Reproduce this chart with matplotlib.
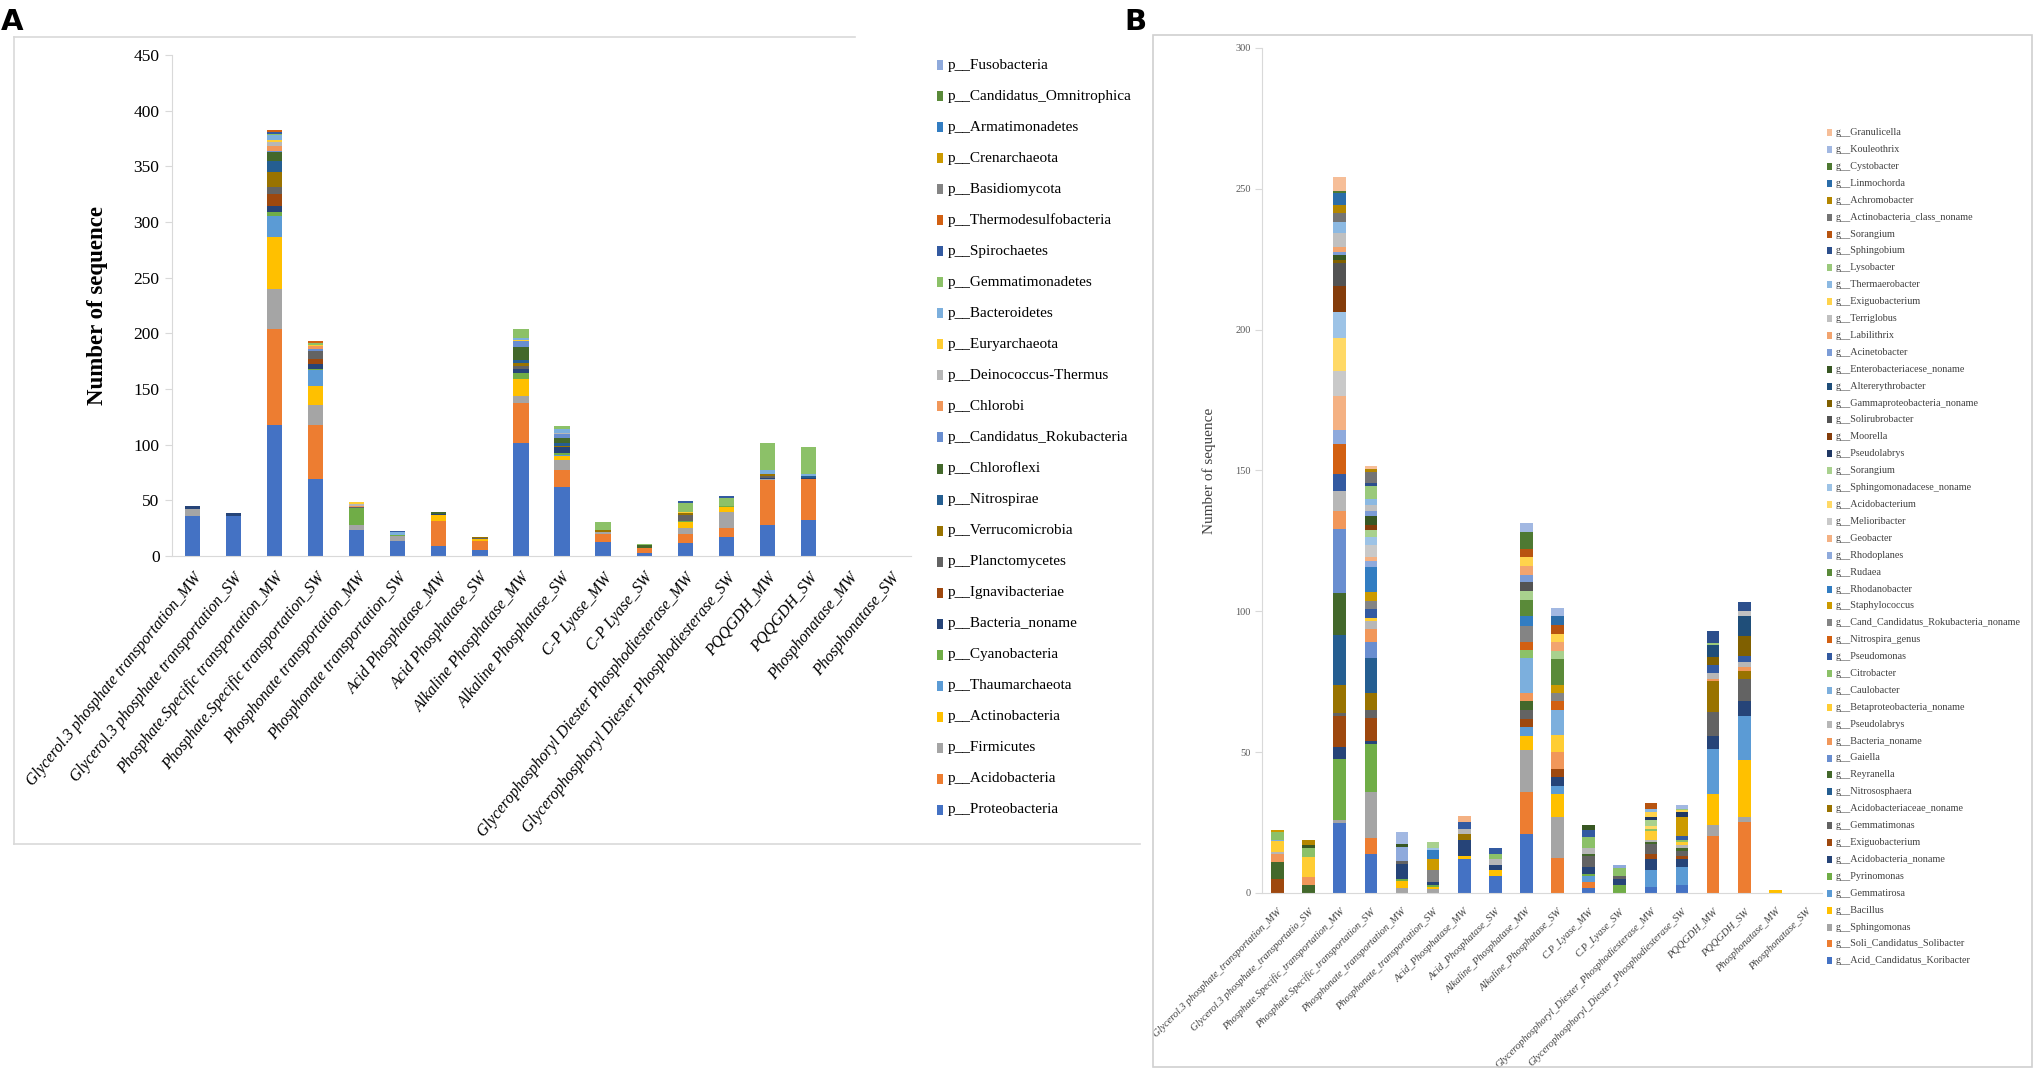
import colorsys
import numpy as np
import matplotlib
matplotlib.use("Agg")
import matplotlib.pyplot as plt
from matplotlib.patches import Rectangle
from matplotlib.lines import Line2D
from matplotlib.colors import to_rgb

W, H = 2037, 1071

# ---------------- Panel A data (phylum level), stacking order bottom -> top
cats_a = ["Glycerol.3 phosphate transportation_MW", "Glycerol.3 phosphate transportation_SW",
          "Phosphate.Specific transportation_MW", "Phosphate.Specific transportation_SW",
          "Phosphonate transportation_MW", "Phosphonate transportation_SW",
          "Acid Phosphatase_MW", "Acid Phosphatase_SW",
          "Alkaline Phosphatase_MW", "Alkaline Phosphatase_SW",
          "C-P Lyase_MW", "C-P Lyase_SW",
          "Glycerophosphoryl Diester Phosphodiesterase_MW", "Glycerophosphoryl Diester Phosphodiesterase_SW",
          "PQQGDH_MW", "PQQGDH_SW", "Phosphonatase_MW", "Phosphonatase_SW"]

p_proteobacteria = [36, 36, 117.5, 69.5, 23, 13.4, 9.2, 5.6, 101.6, 62, 13, 2.5, 12, 17.5, 28, 32.5, 0, 0]
p_acidobacteria = [0, 0, 86.7, 48, 0, 0, 21.9, 8.1, 35.4, 15.5, 7, 5, 7.5, 7.5, 40.5, 37, 0, 0]
p_firmicutes = [6, 0, 35.4, 18.5, 4.5, 4.2, 0, 0, 6.3, 9, 1.5, 0, 5.5, 14.5, 1, 0, 0, 0]
p_actinobacteria = [0, 0, 47, 17, 0, 0, 6, 1.8, 15.3, 3.5, 0, 0, 5.5, 4.5, 0, 0, 0, 0]
p_thaumarchaeota = [0, 0, 19, 14.5, 0, 0, 0, 0, 0.5, 0.5, 0, 0, 0, 0, 0, 0, 0, 0]
p_cyanobacteria = [0, 0, 3.3, 0.6, 15.6, 1, 0, 0, 5.5, 2, 0, 0, 0.5, 0.5, 0, 0, 0, 0]
p_bacteria_noname = [2.7, 2.5, 5.7, 4.8, 0, 0, 0.5, 0, 3, 5, 0, 0, 0.5, 0, 1, 1, 0, 0]
p_ignavibacteriae = [0, 0, 10.5, 4.2, 0, 0, 0, 0, 0.5, 0, 0, 0, 0, 0, 0, 0, 0, 0]
p_planctomycetes = [0, 0, 6.6, 6.6, 0.5, 0, 0, 0.8, 2.5, 0.5, 0.5, 0, 5.5, 0, 1, 0, 0, 0]
p_verrucomicrobia = [0, 0, 12.9, 0.5, 0, 0, 0.5, 1, 2.5, 0.5, 1, 0, 1.5, 0, 2, 0, 0, 0]
p_nitrospirae = [0, 0.5, 9.9, 0, 0, 0, 0, 0, 3, 3, 0, 0, 0, 0, 0.5, 1, 0, 0]
p_chloroflexi = [0, 0, 8.7, 0.3, 0, 0, 1, 0, 12, 4.5, 0.5, 2, 0.5, 0, 0, 0, 0, 0]
p_rokubacteria = [0, 0, 0.5, 1.5, 0.5, 0, 0, 0, 5, 4, 0, 0, 0, 0, 0, 0, 0, 0]
p_chlorobi = [0, 0, 5, 2.5, 1, 0, 0, 0, 0, 0, 0, 0, 0, 0, 0, 0, 0, 0]
p_deinococcus = [0, 0, 3, 0.3, 1.5, 0, 0, 0, 0, 0.5, 0, 0, 0, 0, 0, 0, 0, 0]
p_euryarchaeota = [0, 0, 2, 0.3, 1.5, 0, 0, 0, 0.5, 0, 0, 0, 0.5, 0, 0, 0, 0, 0]
p_bacteroidetes = [0, 0, 4.5, 0.5, 0, 3, 0, 0, 2, 4, 0, 0, 0, 0, 3, 2.5, 0, 0]
p_gemmatimonadetes = [0, 0, 0.5, 2, 0, 0, 0, 0, 8, 2.5, 7, 1.5, 8.5, 8, 24.5, 24, 0, 0]
p_spirochaetes = [0, 0, 2, 0, 0, 1.2, 0, 0, 0, 0, 0, 0, 1.5, 1.5, 0, 0, 0, 0]
p_thermodesulfobacteria = [0, 0, 2, 1.5, 0, 0, 0, 0, 0, 0, 0, 0, 0, 0, 0, 0, 0, 0]
p_basidiomycota = [0] * 18
p_crenarchaeota = [0] * 18
p_armatimonadetes = [0] * 18
p_omnitrophica = [0] * 18
p_fusobacteria = [0] * 18

series_a = [
    ("p__Proteobacteria", p_proteobacteria), ("p__Acidobacteria", p_acidobacteria),
    ("p__Firmicutes", p_firmicutes), ("p__Actinobacteria", p_actinobacteria),
    ("p__Thaumarchaeota", p_thaumarchaeota), ("p__Cyanobacteria", p_cyanobacteria),
    ("p__Bacteria_noname", p_bacteria_noname), ("p__Ignavibacteriae", p_ignavibacteriae),
    ("p__Planctomycetes", p_planctomycetes), ("p__Verrucomicrobia", p_verrucomicrobia),
    ("p__Nitrospirae", p_nitrospirae), ("p__Chloroflexi", p_chloroflexi),
    ("p__Candidatus_Rokubacteria", p_rokubacteria), ("p__Chlorobi", p_chlorobi),
    ("p__Deinococcus-Thermus", p_deinococcus), ("p__Euryarchaeota", p_euryarchaeota),
    ("p__Bacteroidetes", p_bacteroidetes), ("p__Gemmatimonadetes", p_gemmatimonadetes),
    ("p__Spirochaetes", p_spirochaetes), ("p__Thermodesulfobacteria", p_thermodesulfobacteria),
    ("p__Basidiomycota", p_basidiomycota), ("p__Crenarchaeota", p_crenarchaeota),
    ("p__Armatimonadetes", p_armatimonadetes), ("p__Candidatus_Omnitrophica", p_omnitrophica),
    ("p__Fusobacteria", p_fusobacteria),
]

# ---------------- Panel B data (genus level), stacking order bottom -> top
cats_b = ["Glycerol.3 phosphate_transportation_MW", "Glycerol.3 phosphate_transportatio_SW",
          "Phosphate.Specific_transportation_MW", "Phosphate.Specific_transportation_SW",
          "Phosphonate_transportation_MW", "Phosphonate_transportation_SW",
          "Acid_Phosphatase_MW", "Acid_Phosphatase_SW",
          "Alkaline_Phosphatase_MW", "Alkaline_Phosphatase_SW",
          "C.P_Lyase_MW", "C.P_Lyase_SW",
          "Glycerophosphoryl_Diester_Phosphodiesterase_MW", "Glycerophosphoryl_Diester_Phosphodiesterase_SW",
          "PQQGDH_MW", "PQQGDH_SW", "Phosphonatase_MW", "Phosphonatase_SW"]

g_koribacter = [0, 0, 24.7, 13.9, 0, 0, 12.2, 5.9, 20.9, 0, 1.8, 0, 2, 3, 0, 0, 0, 0]
g_solibacter = [0, 0, 0, 5.8, 0, 0, 0, 0, 15.1, 12.3, 2.1, 0, 0, 0, 20.1, 25.1, 0, 0]
g_sphingomonas = [0, 0, 1.2, 16.2, 1.8, 1.3, 0, 0, 14.9, 14.7, 0, 0, 0, 0, 4.1, 1.9, 0, 0]
g_bacillus = [0, 0, 0, 0, 2.5, 0.9, 0.8, 2.1, 5, 8, 0, 0, 0, 0, 10.8, 20.2, 1.2, 0]
g_gemmatirosa = [0, 0, 0, 0, 0, 0, 0, 0, 3, 3.1, 2, 0, 6.3, 6.1, 16.1, 15.7, 0, 0]
g_pyrinomonas = [0, 0, 21.8, 16.9, 0.8, 0.8, 0, 0, 0, 0, 1, 3, 0, 0, 0, 0, 0, 0]
g_acidobacteria_noname = [0, 0, 4, 1.1, 5.3, 0.8, 5.9, 2.1, 0, 3.1, 2.2, 2.1, 3.8, 3, 4.7, 5.3, 0, 0]
g_exiguobacterium_1 = [5, 0, 11, 8.4, 0, 0, 0, 0, 3, 2.8, 0, 0, 1.9, 0.9, 0, 0, 0, 0]
g_gemmatimonas = [0, 0, 1.2, 2.5, 0.8, 0, 0, 0, 3.2, 0, 3.9, 0.8, 3.4, 1.8, 8.4, 7.7, 0, 0]
g_acidobacteriaceae_noname = [0, 0, 9.8, 6.1, 0, 0, 2, 0, 0, 0, 0, 0, 0, 0, 10.9, 3, 0, 0]
g_nitrososphaera = [0, 0, 18, 12.7, 0, 0, 0, 0, 0, 0, 0, 0, 0, 0, 0, 0, 0, 0]
g_reyranella = [6, 3, 14.7, 0, 0, 0, 0, 0, 3.1, 0, 1, 0, 0.7, 1.2, 0, 0, 0, 0]
g_gaiella = [0, 0, 22.9, 5.4, 0, 0, 0, 0, 0, 0, 0, 0, 0, 0, 0, 0, 0, 0]
g_bacteria_noname = [2.9, 2.8, 6.2, 4.7, 0, 0, 0, 0, 2.8, 6, 0, 0, 0, 0, 0.9, 1.2, 0, 0]
g_pseudolabrys_1 = [0.8, 0, 7.2, 2.8, 0, 0, 1.9, 2.1, 0, 0, 2, 0, 0.8, 0.9, 2.2, 1.9, 0, 0]
g_betaproteobacteria_noname = [3.8, 7, 0, 1.2, 0, 0, 0, 0, 0, 6, 0, 0, 3.2, 1.2, 0, 0, 0, 0]
g_caulobacter = [0.3, 0, 0, 0, 0, 0, 0, 0, 12.3, 9.1, 0, 0, 0, 0, 0, 0, 0, 0]
g_citrobacter = [3, 3.2, 0, 0, 0, 0, 0, 1.8, 2.9, 0, 3.9, 3, 0.6, 0.8, 0, 0, 0, 0]
g_pseudomonas = [0, 0, 6, 3.3, 0, 0, 2.3, 2.1, 0, 0, 2.3, 0, 0, 1.2, 2.7, 2, 0, 0]
g_nitrospira_genus = [0, 0, 10.7, 0, 0, 0, 0, 0, 3, 3.2, 0, 0, 0, 0, 0, 0, 0, 0]
g_rokubacteria_noname = [0, 0, 0, 2.7, 0, 4.5, 0, 0, 5.7, 2.7, 0, 0, 0, 0, 0, 0, 0, 0]
g_staphylococcus = [0.6, 0, 0, 3.1, 0, 3.9, 0, 0, 0, 3, 0, 0, 0, 6.8, 0, 0, 0, 0]
g_rhodanobacter = [0, 0, 0, 8.9, 0, 3, 0, 0, 3.3, 0, 0, 0, 0, 0, 0, 0, 0, 0]
g_rudaea = [0, 0, 0, 0, 0, 0, 0, 0, 5.9, 9.1, 0, 0, 0, 0, 0, 0, 0, 0]
g_rhodoplanes = [0, 0, 5, 2, 5, 0, 0, 0, 0, 0, 0, 1, 0, 0, 0, 0, 0, 0]
g_geobacter = [0, 0, 12, 1.7, 0, 0, 2.1, 0, 0, 0, 0, 0, 0, 0, 0, 0, 0, 0]
g_melioribacter = [0, 0, 8.8, 4.3, 0, 0, 0, 0, 0, 0, 0, 0, 0, 0, 0, 0, 0, 0]
g_acidobacterium = [0, 0, 11.9, 0, 0, 0, 0, 0, 0, 0, 0, 0, 1.2, 0, 0, 0, 0, 0]
g_sphingomonadacese_noname = [0, 0, 9, 2.8, 0, 0.7, 0, 0, 0, 0, 0, 0, 0, 0, 0, 0, 0, 0]
g_sorangium_1 = [0, 0, 0, 2.2, 0, 2.1, 0, 0, 3, 2.7, 0, 0, 1.9, 0, 0, 0, 0, 0]
g_pseudolabrys_2 = [0, 0, 0, 0, 0, 0, 0, 0, 0, 0, 0, 0, 1.1, 1.8, 0, 0, 0, 0]
g_moorella = [0, 0, 9.3, 2, 0, 0, 0, 0, 0, 0, 0, 0, 0, 0, 0, 0, 0, 0]
g_solirubrobacter = [0, 0, 8.2, 0, 0, 0, 0, 0, 3.2, 0, 0, 0, 0, 0, 0, 0, 0, 0]
g_gammaproteobacteria_noname = [0, 0, 1, 0, 0, 0, 0, 0, 0, 0, 0, 0, 0, 0, 3, 7.1, 0, 0]
g_altererythrobacter = [0, 0, 0, 0, 0, 0, 0, 0, 0, 0, 0, 0, 0, 0, 4.1, 7.1, 0, 0]
g_enterobacteriacese_noname = [0, 1.2, 1.8, 3, 1.3, 0, 0, 0, 0, 0, 1.8, 0, 0, 0, 0, 0, 0, 0]
g_acinetobacter = [0, 0, 1, 2, 0, 0, 0, 0, 2.7, 0, 0, 0, 0, 0, 0, 0, 0, 0]
g_labilithrix = [0, 0, 2, 0, 0, 0, 0, 0, 3.2, 3.2, 0, 0, 0, 0, 0, 0, 0, 0]
g_terriglobus = [0, 0, 5, 2, 0, 0, 0, 0, 0, 0, 0, 0, 0, 0, 0, 1.8, 0, 0]
g_exiguobacterium_2 = [0, 0, 0, 0, 0, 0, 0, 0, 3.1, 3, 0, 0, 2, 0.6, 0, 0, 0, 0]
g_thermaerobacter = [0, 0, 4, 2.2, 0, 0, 0, 0, 0, 0, 0, 0, 0.9, 0, 0, 0, 0, 0]
g_lysobacter = [0, 0, 0, 4.5, 0, 0, 0, 0, 0, 0, 0, 0, 0, 0.6, 0.8, 0, 0, 0]
g_sphingobium = [0, 0, 0, 1, 0, 0, 0, 0, 0, 0, 0, 0, 0, 0, 4.1, 3.3, 0, 0]
g_sorangium_2 = [0, 0, 0, 0, 0, 0, 0, 0, 3, 3, 0, 0, 2.2, 0, 0, 0, 0, 0]
g_actinobacteria_class_noname = [0, 0, 3, 4, 0, 0, 0, 0, 0, 0, 0, 0, 0, 0, 0, 0, 0, 0]
g_achromobacter = [0, 1.7, 3, 1, 0, 0, 0, 0, 0, 0, 0, 0, 0, 0, 0, 0, 0, 0]
g_linmochorda = [0, 0, 4, 0, 0, 0, 0, 0, 0, 3.2, 0, 0, 0, 0, 0, 0, 0, 0]
g_cystobacter = [0, 0, 1, 0, 0, 0, 0, 0, 6, 0, 0, 0, 0, 0, 0, 0, 0, 0]
g_kouleothrix = [0, 0, 0, 0, 4, 0, 0, 0, 2.9, 3, 0, 0, 0, 1.2, 0, 0, 0, 0]
g_granulicella = [0, 0, 4.7, 1.2, 0, 0, 0, 0, 0, 0, 0, 0, 0, 0, 0, 0, 0, 0]

series_b = [
    ("g__Acid_Candidatus_Koribacter", g_koribacter), ("g__Soli_Candidatus_Solibacter", g_solibacter),
    ("g__Sphingomonas", g_sphingomonas), ("g__Bacillus", g_bacillus),
    ("g__Gemmatirosa", g_gemmatirosa), ("g__Pyrinomonas", g_pyrinomonas),
    ("g__Acidobacteria_noname", g_acidobacteria_noname), ("g__Exiguobacterium", g_exiguobacterium_1),
    ("g__Gemmatimonas", g_gemmatimonas), ("g__Acidobacteriaceae_noname", g_acidobacteriaceae_noname),
    ("g__Nitrososphaera", g_nitrososphaera), ("g__Reyranella", g_reyranella),
    ("g__Gaiella", g_gaiella), ("g__Bacteria_noname", g_bacteria_noname),
    ("g__Pseudolabrys", g_pseudolabrys_1), ("g__Betaproteobacteria_noname", g_betaproteobacteria_noname),
    ("g__Caulobacter", g_caulobacter), ("g__Citrobacter", g_citrobacter),
    ("g__Pseudomonas", g_pseudomonas), ("g__Nitrospira_genus", g_nitrospira_genus),
    ("g__Cand_Candidatus_Rokubacteria_noname", g_rokubacteria_noname), ("g__Staphylococcus", g_staphylococcus),
    ("g__Rhodanobacter", g_rhodanobacter), ("g__Rudaea", g_rudaea),
    ("g__Rhodoplanes", g_rhodoplanes), ("g__Geobacter", g_geobacter),
    ("g__Melioribacter", g_melioribacter), ("g__Acidobacterium", g_acidobacterium),
    ("g__Sphingomonadacese_noname", g_sphingomonadacese_noname), ("g__Sorangium", g_sorangium_1),
    ("g__Pseudolabrys", g_pseudolabrys_2), ("g__Moorella", g_moorella),
    ("g__Solirubrobacter", g_solirubrobacter), ("g__Gammaproteobacteria_noname", g_gammaproteobacteria_noname),
    ("g__Altererythrobacter", g_altererythrobacter), ("g__Enterobacteriacese_noname", g_enterobacteriacese_noname),
    ("g__Acinetobacter", g_acinetobacter), ("g__Labilithrix", g_labilithrix),
    ("g__Terriglobus", g_terriglobus), ("g__Exiguobacterium", g_exiguobacterium_2),
    ("g__Thermaerobacter", g_thermaerobacter), ("g__Lysobacter", g_lysobacter),
    ("g__Sphingobium", g_sphingobium), ("g__Sorangium", g_sorangium_2),
    ("g__Actinobacteria_class_noname", g_actinobacteria_class_noname), ("g__Achromobacter", g_achromobacter),
    ("g__Linmochorda", g_linmochorda), ("g__Cystobacter", g_cystobacter),
    ("g__Kouleothrix", g_kouleothrix), ("g__Granulicella", g_granulicella),
]

# Office style series colours: 6 accents, then darker / lighter variants
ACCENTS = ["#4472C4", "#ED7D31", "#A5A5A5", "#FFC000", "#5B9BD5", "#70AD47"]
VARIANTS = [(1, 0), (0.6, 0), (0.8, 0.2), (0.8, 0), (0.6, 0.4), (0.5, 0), (0.7, 0.3), (0.7, 0), (0.5, 0.5)]


def office_color(i):
    r, g, b = to_rgb(ACCENTS[i % 6])
    h, l, s = colorsys.rgb_to_hls(r, g, b)
    mod, off = VARIANTS[(i // 6) % len(VARIANTS)]
    return colorsys.hls_to_rgb(h, min(1.0, l * mod + off), s)


def fx(px):
    return px / W


def fy(py):
    return 1 - py / H


plt.rcParams['font.family'] = ['Liberation Serif', 'DejaVu Serif']
fig = plt.figure(figsize=(W / 100, H / 100), dpi=100)

# panel frames (A has no right edge, its top line stops before the legend)
frame_a = [((14, 14), (37, 844)), ((14, 855), (37, 37)), ((14, 1140), (844, 844))]
for xs, ys in frame_a:
    fig.add_artist(Line2D([fx(xs[0]), fx(xs[1])], [fy(ys[0]), fy(ys[1])],
                          transform=fig.transFigure, color="#d9d9d9", lw=1.2))
fig.patches.append(Rectangle((fx(1153), fy(1067)), fx(2032) - fx(1153), fy(35) - fy(1067),
                             transform=fig.transFigure, fill=False, ec="#d0d0d0", lw=1.2))
fig.text(fx(1), fy(22), "A", fontsize=21, fontweight="bold", family="DejaVu Sans", va="center")
fig.text(fx(1124), fy(22), "B", fontsize=21, fontweight="bold", family="DejaVu Sans", va="center")


def stacked(ax, series, width):
    x = np.arange(len(series[0][1]))
    bottom = np.zeros(len(x))
    for i, (name, vals) in enumerate(series):
        vals = np.array(vals, dtype=float)
        ax.bar(x, vals, width, bottom=bottom, color=office_color(i), linewidth=0)
        bottom += vals
    return x


def style_axes(ax):
    for s in ["top", "right"]:
        ax.spines[s].set_visible(False)
    for s in ["left", "bottom"]:
        ax.spines[s].set_color("#d9d9d9")
    ax.tick_params(axis="x", length=0)
    ax.tick_params(axis="y", color="#d9d9d9", length=5)


# ---------------- Panel A
ax_a = fig.add_axes([fx(172), fy(556), fx(911) - fx(172), fy(55) - fy(556)])
x_a = stacked(ax_a, series_a, 0.37)
ax_a.set_xlim(-0.5, 17.5)
ax_a.set_ylim(0, 450)
ax_a.set_yticks(range(0, 451, 50))
ax_a.tick_params(axis="y", labelsize=12.5, pad=4)
ax_a.set_xticks(x_a)
ax_a.set_xticklabels(cats_a, rotation=51, ha="right", rotation_mode="anchor",
                     fontsize=11.5, style="italic")
ax_a.tick_params(axis="x", pad=10)
ax_a.set_ylabel("Number of sequence", fontsize=16.5, fontweight="bold", labelpad=18)
style_axes(ax_a)

# legend A (top entry = last series)
for k, (name, vals) in enumerate(reversed(series_a)):
    i = len(series_a) - 1 - k
    yc = 65 + k * 31.04
    fig.patches.append(Rectangle((fx(937), fy(yc + 5)), fx(6), fy(0) - fy(10),
                                 transform=fig.transFigure, color=office_color(i), lw=0))
    fig.text(fx(948), fy(yc), name, fontsize=11, va="center", ha="left")

# ---------------- Panel B
ax_b = fig.add_axes([fx(1262), fy(893), fx(1822) - fx(1262), fy(48) - fy(893)])
x_b = stacked(ax_b, series_b, 0.41)
ax_b.set_xlim(-0.5, 17.5)
ax_b.set_ylim(0, 300)
ax_b.set_yticks(range(0, 301, 50))
ax_b.tick_params(axis="y", labelsize=7.5, labelcolor="#595959", pad=3)
ax_b.set_xticks(x_b)
ax_b.set_xticklabels(cats_b, rotation=45, ha="right", rotation_mode="anchor",
                     fontsize=7.5, style="italic", color="#404040")
ax_b.tick_params(axis="x", pad=10)
ax_b.set_ylabel("Number of sequence", fontsize=11, color="#404040", labelpad=14)
style_axes(ax_b)

for k, (name, vals) in enumerate(reversed(series_b)):
    i = len(series_b) - 1 - k
    yc = 132.7 + k * 16.9
    fig.patches.append(Rectangle((fx(1827), fy(yc + 3.5)), fx(5), fy(0) - fy(7),
                                 transform=fig.transFigure, color=office_color(i), lw=0))
    fig.text(fx(1836), fy(yc), name, fontsize=7.3, va="center", ha="left", color="#404040")

fig.savefig("out.png", dpi=100, facecolor="white")
